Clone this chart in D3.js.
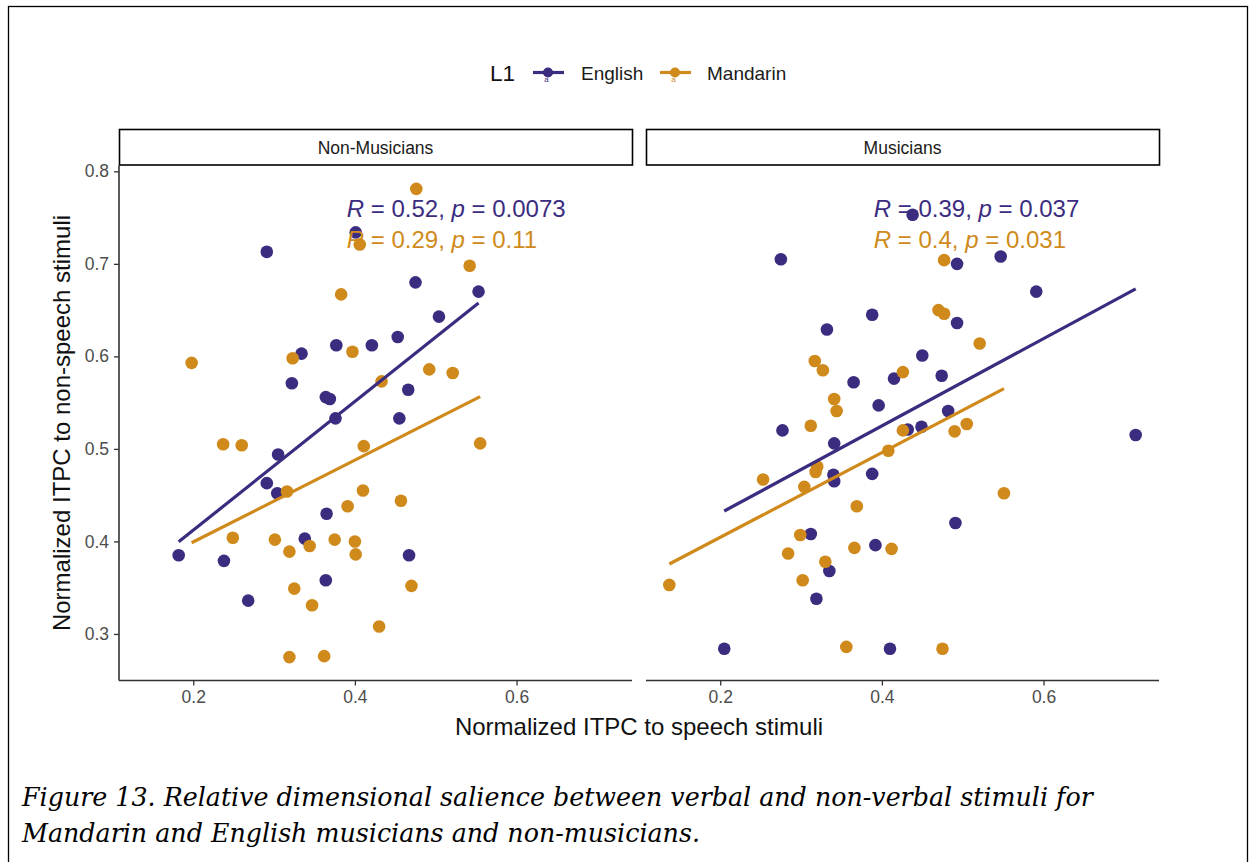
<!DOCTYPE html>
<html>
<head>
<meta charset="utf-8">
<script src="https://cdnjs.cloudflare.com/ajax/libs/d3/7.8.5/d3.min.js"></script>
<style>
body { margin: 0; background: #fff; }
svg text { font-family: "Liberation Sans", Arial, sans-serif; }
</style>
</head>
<body>
<svg id="svg_chart" width="1253" height="862"></svg>
<script>

// ====================================================
// data: [speech ITPC, non-speech ITPC]
var panel_names = ["Non-Musicians", "Musicians"];
var group_names = ["English", "Mandarin"];
var group_colors = ["#3b2c7f", "#cf8a1b"];

var nm_english = [
	[0.401,0.734],[0.291,0.713],[0.377,0.612],[0.421,0.612],[0.334,0.603],[0.322,0.571],
	[0.364,0.556],[0.369,0.554],[0.376,0.533],[0.475,0.680],[0.553,0.670],[0.504,0.643],
	[0.453,0.621],[0.466,0.564],[0.455,0.533],[0.305,0.494],[0.291,0.463],[0.304,0.452],
	[0.365,0.430],[0.338,0.403],[0.182,0.385],[0.238,0.379],[0.364,0.358],[0.268,0.336],
	[0.467,0.385]
];

var nm_mandarin = [
	[0.476,0.781],[0.406,0.721],[0.542,0.698],[0.383,0.667],[0.397,0.605],[0.323,0.598],
	[0.198,0.593],[0.492,0.586],[0.521,0.582],[0.433,0.573],[0.237,0.505],[0.260,0.504],
	[0.411,0.503],[0.555,0.506],[0.316,0.454],[0.410,0.455],[0.391,0.438],[0.457,0.444],
	[0.249,0.404],[0.301,0.402],[0.344,0.395],[0.319,0.389],[0.375,0.402],[0.400,0.400],
	[0.401,0.386],[0.325,0.349],[0.347,0.331],[0.470,0.352],[0.430,0.308],[0.319,0.275],
	[0.362,0.276]
];

var mus_english = [
	[0.275,0.705],[0.388,0.645],[0.332,0.629],[0.365,0.572],[0.415,0.576],[0.450,0.601],
	[0.474,0.579],[0.396,0.547],[0.277,0.520],[0.341,0.506],[0.482,0.541],[0.432,0.521],
	[0.449,0.524],[0.438,0.753],[0.547,0.708],[0.493,0.700],[0.591,0.670],[0.493,0.636],
	[0.340,0.472],[0.341,0.465],[0.388,0.473],[0.312,0.408],[0.392,0.396],[0.335,0.368],
	[0.319,0.338],[0.205,0.284],[0.410,0.284],[0.714,0.515],[0.491,0.420]
];

var mus_mandarin = [
	[0.317,0.595],[0.327,0.585],[0.426,0.583],[0.521,0.614],[0.341,0.554],[0.344,0.541],
	[0.312,0.525],[0.426,0.520],[0.490,0.519],[0.505,0.527],[0.408,0.498],[0.477,0.704],
	[0.470,0.650],[0.477,0.646],[0.253,0.467],[0.320,0.481],[0.318,0.475],[0.304,0.459],
	[0.369,0.438],[0.299,0.407],[0.284,0.387],[0.366,0.393],[0.412,0.392],[0.330,0.378],
	[0.302,0.358],[0.137,0.353],[0.356,0.286],[0.551,0.452],[0.475,0.284]
];

// stat_cor labels, [panel][group]
var cor_r = [["0.52", "0.29"], ["0.39", "0.4"]];
var cor_p = [["0.0073", "0.11"], ["0.037", "0.031"]];

var x_ticks = [0.2, 0.4, 0.6];
var y_ticks = [0.3, 0.4, 0.5, 0.6, 0.7, 0.8];

var caption_lines = [
	"Figure 13. Relative dimensional salience between verbal and non-verbal stimuli for",
	"Mandarin and English musicians and non-musicians."
];

var panel_data = [[nm_english, nm_mandarin], [mus_english, mus_mandarin]];


// ====================================================
// geometry
var panel_top = 165.5;
var panel_bottom = 680.5;
var panel_lefts = [119, 646];
var panel_width = 513;
var strip_top = 129;
var pt_radius = 6.3;

var small_font = 17.5;   // ticks, strips
var big_font = 24;       // titles, cor labels

var all_pts = [].concat(nm_english, nm_mandarin, mus_english, mus_mandarin);

// ggplot style 5% expansion
function fn_expand(ext) {
	var pad = (ext[1] - ext[0]) * 0.05;
	return [ext[0] - pad, ext[1] + pad];
}

var x_dom = fn_expand(d3.extent(all_pts, function(d) { return d[0]; }));
var y_dom = fn_expand(d3.extent(all_pts, function(d) { return d[1]; }));

var y_scale = d3.scaleLinear()
	.domain(y_dom)
	.range([panel_bottom, panel_top]);

// least squares line over the group's x range
function fn_lm(pts) {
	var mx = d3.mean(pts, function(d) { return d[0]; }),
		my = d3.mean(pts, function(d) { return d[1]; });
	var sxy = d3.sum(pts, function(d) { return (d[0] - mx) * (d[1] - my); }),
		sxx = d3.sum(pts, function(d) { return (d[0] - mx) * (d[0] - mx); });
	var b = sxy / sxx, a = my - b * mx;
	var ext = d3.extent(pts, function(d) { return d[0]; });
	return [[ext[0], a + b * ext[0]], [ext[1], a + b * ext[1]]];
}

var svg = d3.select("svg#svg_chart");

// outer frame of the document cell
svg.append("rect")
	.attr("x", 8.5).attr("y", 6.5)
	.attr("width", 1239).attr("height", 880)
	.attr("fill", "none")
	.attr("stroke", "#000")
	.attr("stroke-width", 1.3);


// ====================================================
// panels
panel_names.forEach(function(pname, pi) {

	var x_scale = d3.scaleLinear()
		.domain(x_dom)
		.range([panel_lefts[pi], panel_lefts[pi] + panel_width]);

	var g = svg.append("g").attr("class", "panel");

	// strip
	g.append("rect")
		.attr("x", panel_lefts[pi] + 0.5)
		.attr("y", strip_top + 0.5)
		.attr("width", panel_width)
		.attr("height", panel_top - strip_top - 1)
		.attr("fill", "#fff")
		.attr("stroke", "#000")
		.attr("stroke-width", 1.6);

	g.append("text")
		.attr("x", panel_lefts[pi] + panel_width / 2)
		.attr("y", (strip_top + panel_top) / 2 + 6.5)
		.attr("text-anchor", "middle")
		.attr("font-size", small_font)
		.attr("fill", "#1a1a1a")
		.text(pname);

	// x axis
	var gx = g.append("g")
		.attr("transform", "translate(0," + panel_bottom + ")")
		.call(d3.axisBottom(x_scale)
			.tickValues(x_ticks)
			.tickSize(5)
			.tickPadding(5)
			.tickFormat(d3.format(".1f")));
	gx.select(".domain")
		.attr("d", "M" + panel_lefts[pi] + ",0H" + (panel_lefts[pi] + panel_width))
		.attr("stroke", "#333").attr("stroke-width", 1.6);
	gx.selectAll(".tick line").attr("stroke", "#333").attr("stroke-width", 1.3);
	gx.selectAll(".tick text")
		.attr("font-size", small_font)
		.attr("fill", "#4d4d4d")
		.attr("font-family", "Liberation Sans, Arial, sans-serif");

	// y axis only on the first panel
	if (pi == 0) {
		var gy = g.append("g")
			.attr("transform", "translate(" + panel_lefts[pi] + ",0)")
			.call(d3.axisLeft(y_scale)
				.tickValues(y_ticks)
				.tickSize(5)
				.tickPadding(5)
				.tickFormat(d3.format(".1f")));
		gy.select(".domain")
			.attr("d", "M0," + panel_top + "V" + panel_bottom)
			.attr("stroke", "#333").attr("stroke-width", 1.6);
		gy.selectAll(".tick line").attr("stroke", "#333").attr("stroke-width", 1.3);
		gy.selectAll(".tick text")
			.attr("font-size", small_font)
			.attr("fill", "#4d4d4d")
			.attr("font-family", "Liberation Sans, Arial, sans-serif");
	}

	// points
	group_names.forEach(function(gname, gi) {
		g.append("g")
			.selectAll("circle")
			.data(panel_data[pi][gi])
			.enter().append("circle")
			.attr("cx", function(d) { return x_scale(d[0]); })
			.attr("cy", function(d) { return y_scale(d[1]); })
			.attr("r", pt_radius)
			.attr("fill", group_colors[gi]);
	});

	// regression lines
	group_names.forEach(function(gname, gi) {
		var seg = fn_lm(panel_data[pi][gi]);
		g.append("line")
			.attr("x1", x_scale(seg[0][0])).attr("y1", y_scale(seg[0][1]))
			.attr("x2", x_scale(seg[1][0])).attr("y2", y_scale(seg[1][1]))
			.attr("stroke", group_colors[gi])
			.attr("stroke-width", 3.2)
			.attr("stroke-linecap", "butt");
	});

	// correlation labels
	var label_y = [0.7503, 0.7173];
	group_names.forEach(function(gname, gi) {
		var t = g.append("text")
			.attr("x", x_scale(0.39))
			.attr("y", y_scale(label_y[gi]))
			.attr("font-size", big_font)
			.attr("fill", group_colors[gi]);
		t.append("tspan").attr("font-style", "italic").text("R");
		t.append("tspan").text(" = " + cor_r[pi][gi] + ", ");
		t.append("tspan").attr("font-style", "italic").text("p");
		t.append("tspan").text(" = " + cor_p[pi][gi]);
	});
});


// ====================================================
// axis titles
svg.append("text")
	.attr("x", 639)
	.attr("y", 735)
	.attr("text-anchor", "middle")
	.attr("font-size", big_font)
	.attr("fill", "#111")
	.text("Normalized ITPC to speech stimuli");

svg.append("text")
	.attr("transform", "translate(70,423) rotate(-90)")
	.attr("text-anchor", "middle")
	.attr("font-size", big_font)
	.attr("fill", "#111")
	.text("Normalized ITPC to non-speech stimuli");


// ====================================================
// legend
var legend = svg.append("g").attr("class", "legend");

legend.append("text")
	.attr("x", 490).attr("y", 81)
	.attr("font-size", 22.5)
	.attr("fill", "#111")
	.text("L1");

var key_x = [533, 660];
var label_x = [581, 707];
group_names.forEach(function(gname, gi) {
	var kg = legend.append("g");
	kg.append("line")
		.attr("x1", key_x[gi]).attr("x2", key_x[gi] + 31)
		.attr("y1", 72.5).attr("y2", 72.5)
		.attr("stroke", group_colors[gi])
		.attr("stroke-width", 3.2);
	kg.append("circle")
		.attr("cx", key_x[gi] + 15).attr("cy", 72.5)
		.attr("r", 5)
		.attr("fill", group_colors[gi]);
	kg.append("text")
		.attr("x", key_x[gi] + 13.5).attr("y", 82)
		.attr("font-size", 8)
		.attr("fill", group_colors[gi])
		.attr("text-anchor", "middle")
		.text("a");
	legend.append("text")
		.attr("x", label_x[gi]).attr("y", 79.5)
		.attr("font-size", 19)
		.attr("fill", "#1a1a1a")
		.text(gname);
});


// ====================================================
// caption, fitted to the width it takes in the figure
var cap_size = 26;
var cap = svg.append("g").attr("class", "caption");
var cap_text = cap.selectAll("text")
	.data(caption_lines)
	.enter().append("text")
	.attr("x", 22)
	.attr("y", function(d, i) { return 806 + i * 36; })
	.attr("font-size", cap_size)
	.attr("font-style", "italic")
	.attr("fill", "#000")
	.style("font-family", "'DejaVu Serif', 'Liberation Serif', serif")
	.text(function(d) { return d; });

var cap_len = cap_text.node().getComputedTextLength();
if (cap_len > 0) {
	cap_text.attr("font-size", cap_size * 1071 / cap_len);
}

</script>
</body>
</html>
